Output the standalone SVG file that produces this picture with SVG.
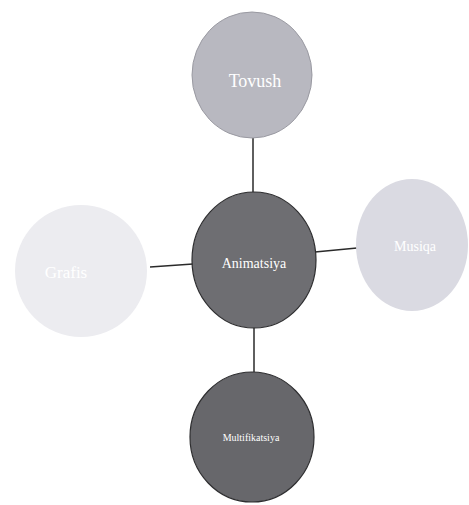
<svg xmlns="http://www.w3.org/2000/svg" width="469" height="505" viewBox="0 0 469 505">
<style>
.lbl{font-family:"Liberation Serif","Times New Roman",serif;fill:#ffffff;text-anchor:middle;dominant-baseline:central}
.conn line{stroke:#2a2a2a;stroke-width:1.5}
</style>
<rect width="469" height="505" fill="#ffffff"/>
<g class="conn" id="connectors">
<line x1="253" y1="138" x2="253" y2="192"/>
<line x1="150" y1="267" x2="193" y2="264"/>
<line x1="315" y1="252" x2="357" y2="248"/>
<line x1="254" y1="327" x2="254" y2="372"/>
</g>
<g id="tovush">
<ellipse cx="252" cy="75" rx="60" ry="63" fill="#b8b8c0" stroke="#9a9aa2" stroke-width="1"/>
<text class="lbl" x="255" y="81" font-size="18">Tovush</text>
</g>
<g id="grafis">
<ellipse cx="81" cy="271" rx="66" ry="66" fill="#ececf0"/>
<text class="lbl" x="66" y="272" font-size="17">Grafis</text>
</g>
<g id="musiqa">
<ellipse cx="412" cy="245" rx="56" ry="66" fill="#dadae2"/>
<text class="lbl" x="415" y="246" font-size="14">Musiqa</text>
</g>
<g id="animatsiya">
<ellipse cx="254" cy="260" rx="62" ry="68" fill="#6e6e72" stroke="#2e2e30" stroke-width="1.2"/>
<text class="lbl" x="254" y="263" font-size="14">Animatsiya</text>
</g>
<g id="multifikatsiya">
<ellipse cx="252" cy="437" rx="62" ry="65" fill="#67676b" stroke="#2e2e30" stroke-width="1.2"/>
<text class="lbl" x="251" y="437" font-size="10">Multifikatsiya</text>
</g>
</svg>
